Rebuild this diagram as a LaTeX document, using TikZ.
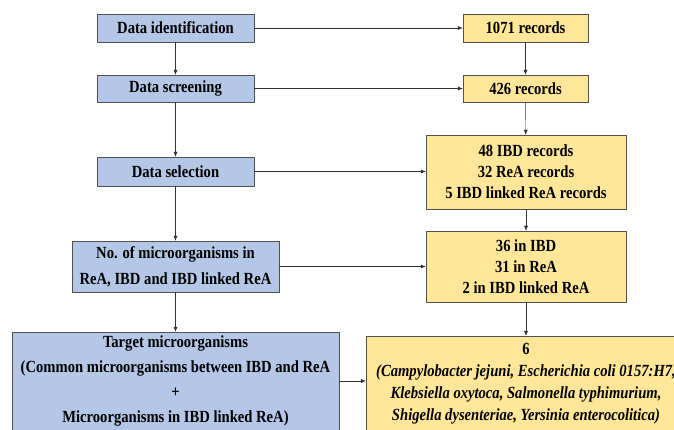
\documentclass[tikz,border=0pt]{standalone}
\usepackage{fontspec}
\setmainfont{Liberation Serif}[FakeStretch=0.86]
\usetikzlibrary{arrows.meta,calc}
\definecolor{stepblue}{RGB}{180,199,231}
\definecolor{stepyellow}{RGB}{255,230,153}
\definecolor{edgegray}{RGB}{80,80,80}
\tikzset{
  bluebox/.style={draw=edgegray,fill=stepblue,inner sep=0pt,align=center,font=\bfseries\fontsize{17}{21}\selectfont},
  yellowbox/.style={draw=edgegray,fill=stepyellow,inner sep=0pt,align=center,font=\bfseries\fontsize{17}{21}\selectfont},
  flow/.style={-{Latex[length=5pt,width=4pt]},draw=black!80}
}

\begin{document}
\begin{tikzpicture}[x=1pt,y=-1pt]
  \clip (0,0) rectangle (674,430);
  \fill[white] (0,0) rectangle (674,430);
  % left column
  \node[bluebox,minimum width=157pt,minimum height=28pt] (ident) at (175.5,28) {Data identification};
  \node[bluebox,minimum width=157pt,minimum height=27pt] (screen) at (175.5,88.5) {Data screening};
  \node[bluebox,minimum width=157pt,minimum height=29pt] (select) at (175.5,171.5) {Data selection};
  \node[bluebox,minimum width=207pt,minimum height=51pt,font=\bfseries\fontsize{17}{26}\selectfont] (micro) at (175.5,266.5)
    {No. of microorganisms in\\ReA, IBD and IBD linked ReA};
  \node[bluebox,minimum width=327pt,minimum height=98pt,font=\bfseries\fontsize{17}{25}\selectfont] (target) at (175.5,381)
    {Target microorganisms\\(Common microorganisms between IBD and ReA\\+\\Microorganisms in IBD linked ReA)};
  % right column
  \node[yellowbox,minimum width=125pt,minimum height=28pt] (rec1071) at (525.5,28) {1071 records};
  \node[yellowbox,minimum width=125pt,minimum height=27pt] (rec426) at (525.5,88.5) {426 records};
  \node[yellowbox,minimum width=200pt,minimum height=74pt] (recsel) at (526,172)
    {48 IBD records\\32 ReA records\\5 IBD linked ReA records};
  \node[yellowbox,minimum width=200pt,minimum height=71pt] (counts) at (526,266.5)
    {36 in IBD\\31 in ReA\\2 in IBD linked ReA};
  \node[yellowbox,minimum width=320pt,minimum height=96pt,font=\bfseries\fontsize{17}{22}\selectfont] (six) at (526,384)
    {6\\\itshape(Campylobacter jejuni, Escherichia coli 0157:H7,\\\itshape Klebsiella oxytoca, Salmonella typhimurium,\\\itshape Shigella dysenteriae, Yersinia enterocolitica)};
  % vertical arrows
  \draw[flow] (ident) -- (screen);
  \draw[flow] (screen) -- (select);
  \draw[flow] (select) -- (micro);
  \draw[flow] (micro) -- (target);
  \draw[flow] (rec1071) -- (rec426);
  \draw[flow] (rec426) -- (recsel);
  \draw[flow] (recsel) -- (counts);
  \draw[flow] (counts) -- (six);
  % horizontal arrows
  \draw[flow] (ident) -- (rec1071);
  \draw[flow] (screen) -- (rec426);
  \draw[flow] (select.east) -- (select.east -| recsel.west);
  \draw[flow] (micro) -- (counts);
  \draw[flow] (target.east) -- (target.east -| six.west);
\end{tikzpicture}
\end{document}
